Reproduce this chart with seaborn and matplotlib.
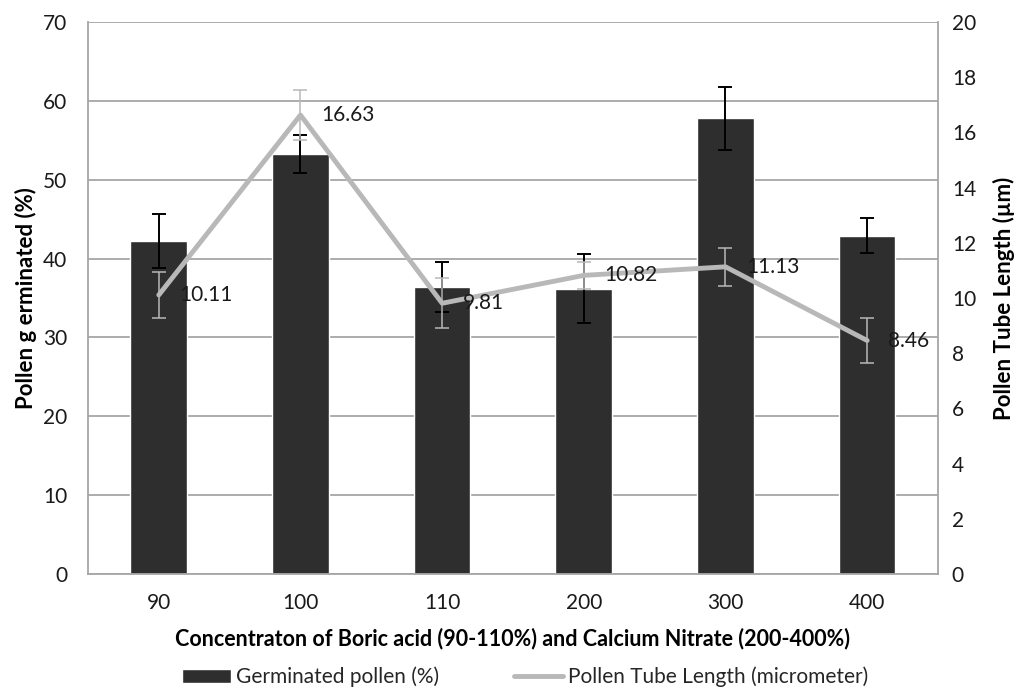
import numpy as np
import pandas as pd
import seaborn as sns
import matplotlib.pyplot as plt
from matplotlib.lines import Line2D
from matplotlib.patches import Patch

# values
concentrations = ["90", "100", "110", "200", "300", "400"]
germinated = [42.2, 53.3, 36.4, 36.2, 57.8, 42.9]
germinated_err = [3.4, 2.4, 3.2, 4.4, 4.0, 2.2]
tube_length = [10.11, 16.63, 9.81, 10.82, 11.13, 8.46]
tube_err = [0.85, 0.9, 0.9, 0.5, 0.7, 0.8]

sns.set_style("white")
plt.rcParams["font.family"] = ["Lato", "DejaVu Sans"]

df = pd.DataFrame({"conc": concentrations, "germ": germinated, "tube": tube_length})

fig = plt.figure(figsize=(10.18, 6.88), dpi=100)
ax = fig.add_axes([0.0864, 0.1657, 0.835, 0.8023])

grid_col = "#a6a6a6"
bar_col = "#2e2e2e"
line_col = "#b8b8b8"
txt_col = "#1a1a1a"

sns.barplot(data=df, x="conc", y="germ", color=bar_col, width=0.4,
            errorbar=None, ax=ax, zorder=2, saturation=1)
x = np.arange(len(concentrations))
ax.errorbar(x, germinated, yerr=germinated_err, fmt="none", ecolor="black",
            elinewidth=1.4, capsize=5, capthick=1.4, zorder=3)

ax.set_ylim(0, 70)
ax.set_yticks(range(0, 71, 10))
ax.yaxis.grid(True, color=grid_col, linewidth=1.3, zorder=0)
ax.set_axisbelow(True)
for s in ["left", "bottom", "right", "top"]:
    ax.spines[s].set_color(grid_col)
    ax.spines[s].set_linewidth(1.3)
ax.spines["top"].set_visible(False)
ax.tick_params(axis="x", length=0, labelsize=15, colors=txt_col, pad=14)
ax.tick_params(axis="y", length=0, labelsize=15, colors=txt_col, pad=15)
ax.set_xlabel("Concentraton of Boric acid (90-110%) and Calcium Nitrate (200-400%)",
              fontsize=15.5, fontweight="bold", labelpad=10, color="black")
ax.set_ylabel("Pollen g erminated (%)", fontsize=16, fontweight="bold", labelpad=4,
              color="black")

ax2 = ax.twinx()
sns.pointplot(data=df, x="conc", y="tube", color=line_col, markers="",
              linewidth=3.5, errorbar=None, ax=ax2, zorder=4)
ax2.errorbar(x, tube_length, yerr=tube_err, fmt="none", ecolor=line_col,
             elinewidth=1.1, capsize=5, capthick=1.1, zorder=4)
ax2.set_ylim(0, 20)
ax2.set_yticks(range(0, 21, 2))
ax2.set_xlim(-0.5, len(concentrations) - 0.5)
ax2.tick_params(axis="y", length=0, labelsize=15, colors=txt_col, pad=10)
ax2.set_ylabel("Pollen Tube Length (µm)", fontsize=16, fontweight="bold", labelpad=12,
               color="black")
for s in ["left", "bottom", "right", "top"]:
    ax2.spines[s].set_visible(False)
ax2.grid(False)

for xi, v in zip(x, tube_length):
    ax2.annotate(f"{v:.2f}", (xi, v), xytext=(15, 0), textcoords="offset points",
                 va="center", ha="left", fontsize=15, color=txt_col, zorder=5)

handles = [Patch(facecolor=bar_col, label="Germinated pollen (%)"),
           Line2D([0], [0], color=line_col, linewidth=3.5, label="Pollen Tube Length (micrometer)")]
fig.legend(handles=handles, loc="center", bbox_to_anchor=(0.516, 0.016), ncol=2,
           frameon=False, fontsize=15, handlelength=2.35, handletextpad=0.25,
           columnspacing=3.6, borderpad=0)

fig.savefig("out.png", dpi=100)
